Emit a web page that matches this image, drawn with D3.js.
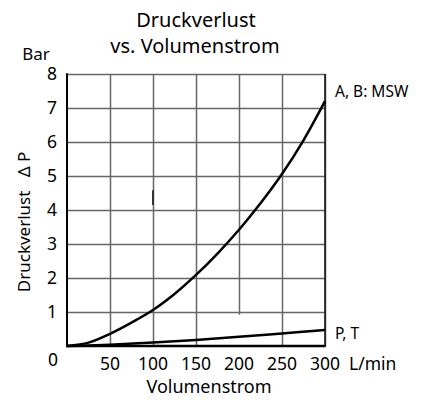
<!DOCTYPE html>
<head>
	<script src="https://d3js.org/d3.v7.min.js"></script>
	<style>
		body { margin: 0; background: #fff; }
		text { font-family: "Noto Sans", "Open Sans", sans-serif; fill: #000; }
		.title { font-size: 20px; }
		.tick-label { font-size: 17.5px; }
		.label { font-size: 18px; }
		.series { font-size: 15.5px; }
		.grid line { stroke: #666; stroke-width: 1.5; }
		.grid path { display: none; }
		.curve { fill: none; stroke: #000; stroke-width: 2.5; }
	</style>
</head>
<body>
	<script>
		// data
		var xTicks = [50, 100, 150, 200, 250, 300];
		var yTicks = [1, 2, 3, 4, 5, 6, 7, 8];
		var flowAB = [0, 25, 50, 75, 100, 125, 150, 175, 200, 225, 250, 275, 300];
		var dropAB = [0, 0.1, 0.36, 0.69, 1.06, 1.53, 2.09, 2.72, 3.42, 4.2, 5.06, 6.05, 7.2];
		var flowPT = [0, 25, 50, 100, 150, 200, 250, 300];
		var dropPT = [0, 0.015, 0.04, 0.1, 0.18, 0.27, 0.37, 0.47];

		// variables
		var width = 424;
		var height = 401;
		var margin = { top: 74, right: 99, bottom: 55, left: 67 };

		// scales
		var xScale = d3.scaleLinear()
			.domain([0, 300])
			.range([margin.left, width - margin.right]);
		var yScale = d3.scaleLinear()
			.domain([0, 8])
			.range([height - margin.bottom, margin.top]);

		var svg = d3.select("body")
			.append("svg")
			.attr("width", width)
			.attr("height", height);

		// grid
		var xGrid = svg.append("g")
			.attr("class", "grid")
			.attr("transform", "translate(" + [0, margin.top] + ")")
			.call(d3.axisTop(xScale).tickValues(xTicks).tickSize(-(yScale(0) - yScale(8))).tickFormat(""));
		// the 200 line stops just under 1 bar in the original
		xGrid.selectAll(".tick line")
			.filter(function(d) { return d === 200; })
			.attr("y2", yScale(0.92) - margin.top);

		svg.append("g")
			.attr("class", "grid")
			.attr("transform", "translate(" + [margin.left, 0] + ")")
			.call(d3.axisLeft(yScale).tickValues(yTicks).tickSize(-(xScale(300) - xScale(0))).tickFormat(""));

		// small dark mark on the 100 line
		svg.append("line")
			.attr("x1", xScale(100)).attr("x2", xScale(100))
			.attr("y1", yScale(4.58)).attr("y2", yScale(4.15))
			.attr("stroke", "#333").attr("stroke-width", 2);

		// frame
		svg.append("line")
			.attr("x1", xScale(300)).attr("x2", xScale(300))
			.attr("y1", yScale(8)).attr("y2", yScale(0))
			.attr("stroke", "#111").attr("stroke-width", 1.5);
		svg.append("line")
			.attr("x1", xScale(0)).attr("x2", xScale(0))
			.attr("y1", yScale(8) - 0.75).attr("y2", yScale(0))
			.attr("stroke", "#000").attr("stroke-width", 2);
		svg.append("line")
			.attr("x1", xScale(0) - 1).attr("x2", xScale(300) + 0.75)
			.attr("y1", yScale(0)).attr("y2", yScale(0))
			.attr("stroke", "#000").attr("stroke-width", 2.5);

		// curves
		var line = d3.line()
			.x(function(d) { return xScale(d[0]); })
			.y(function(d) { return yScale(d[1]); })
			.curve(d3.curveCatmullRom.alpha(0.5));

		svg.append("path")
			.datum(d3.zip(flowAB, dropAB))
			.attr("class", "curve")
			.attr("d", line);
		svg.append("path")
			.datum(d3.zip(flowPT, dropPT))
			.attr("class", "curve")
			.attr("d", line);

		// tick labels
		svg.selectAll(".ylab")
			.data(yTicks)
			.enter()
			.append("text")
			.attr("class", "tick-label")
			.attr("x", 57)
			.attr("y", function(d) { return yScale(d) + 6; })
			.attr("text-anchor", "end")
			.text(function(d) { return d; });

		svg.selectAll(".xlab")
			.data(xTicks)
			.enter()
			.append("text")
			.attr("class", "tick-label")
			.attr("x", function(d) { return xScale(d); })
			.attr("y", 370)
			.attr("text-anchor", "middle")
			.text(function(d) { return d; });

		svg.append("text")
			.attr("class", "tick-label")
			.attr("x", 53)
			.attr("y", 366)
			.attr("text-anchor", "middle")
			.text("0");

		svg.append("text")
			.attr("class", "tick-label")
			.attr("x", 349)
			.attr("y", 370)
			.text("L/min");

		// titles
		svg.append("text")
			.attr("class", "title")
			.attr("x", 196)
			.attr("y", 27)
			.attr("text-anchor", "middle")
			.text("Druckverlust");
		svg.append("text")
			.attr("class", "title")
			.attr("x", 195)
			.attr("y", 53)
			.attr("text-anchor", "middle")
			.text("vs. Volumenstrom");

		svg.append("text")
			.attr("class", "label")
			.attr("x", 36)
			.attr("y", 60)
			.attr("text-anchor", "middle")
			.style("font-size", "17px")
			.text("Bar");

		svg.append("text")
			.attr("class", "label")
			.attr("x", 209)
			.attr("y", 393)
			.attr("text-anchor", "middle")
			.text("Volumenstrom");

		svg.append("text")
			.attr("class", "label")
			.attr("transform", "translate(" + [30, 222] + ") rotate(-90)")
			.attr("text-anchor", "middle")
			.style("font-size", "17px")
			.style("white-space", "pre")
			.text("Druckverlust   \u0394 P");

		// series labels
		svg.append("text")
			.attr("class", "series")
			.attr("x", 335)
			.attr("y", 97)
			.text("A, B: MSW");
		svg.append("text")
			.attr("class", "series")
			.attr("x", 335)
			.attr("y", 339)
			.text("P, T");
	</script>
</body>
</html>
